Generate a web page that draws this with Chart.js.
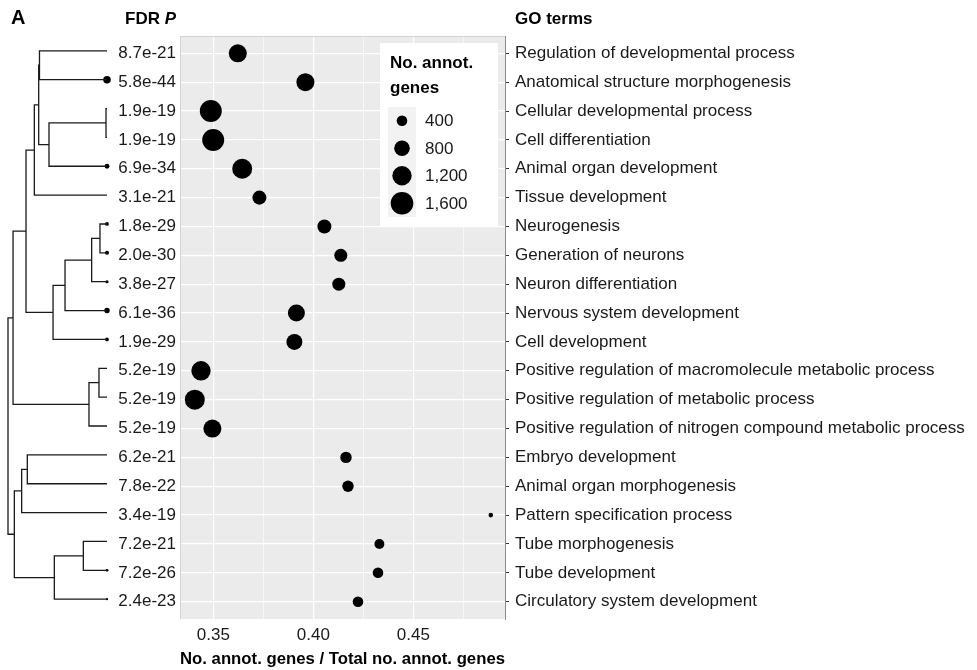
<!DOCTYPE html>
<html><head><meta charset="utf-8">
<script src="https://cdn.jsdelivr.net/npm/chart.js@4"></script>
<style>
html,body{margin:0;padding:0;background:#fff;}
#wrap{position:relative;width:977px;height:670px;overflow:hidden;}
#main,#dendro{position:absolute;left:0;top:0;}
</style></head><body>
<div id="wrap"><canvas id="main" width="977" height="670"></canvas><canvas id="dendro" width="112" height="670"></canvas></div>
<script>
// ---------- data ----------
const goTerms = [
  'Regulation of developmental process',
  'Anatomical structure morphogenesis',
  'Cellular developmental process',
  'Cell differentiation',
  'Animal organ development',
  'Tissue development',
  'Neurogenesis',
  'Generation of neurons',
  'Neuron differentiation',
  'Nervous system development',
  'Cell development',
  'Positive regulation of macromolecule metabolic process',
  'Positive regulation of metabolic process',
  'Positive regulation of nitrogen compound metabolic process',
  'Embryo development',
  'Animal organ morphogenesis',
  'Pattern specification process',
  'Tube morphogenesis',
  'Tube development',
  'Circulatory system development'
];
const fdrP = [8.7e-21, 5.8e-44, 1.9e-19, 1.9e-19, 6.9e-34, 3.1e-21, 1.8e-29, 2.0e-30, 3.8e-27, 6.1e-36,
              1.9e-29, 5.2e-19, 5.2e-19, 5.2e-19, 6.2e-21, 7.8e-22, 3.4e-19, 7.2e-21, 7.2e-26, 2.4e-23];
const geneRatio = [0.3622, 0.3960, 0.3487, 0.3499, 0.3644, 0.3730, 0.4055, 0.4137, 0.4127, 0.3915,
                   0.3905, 0.3438, 0.3407, 0.3495, 0.4163, 0.4173, 0.4887, 0.4330, 0.4323, 0.4223];
const annotGenes = [1045, 1045, 1520, 1520, 1270, 660, 660, 580, 580, 940,
                    840, 1200, 1270, 1045, 455, 455, 100, 360, 400, 400];
const sizeBreaks = [400, 800, 1200, 1600];
const xTickValues = [0.35, 0.375, 0.40, 0.425, 0.45, 0.475];
const xMajorTicks = [0.35, 0.40, 0.45];
// dendrogram merges (hclust style: negative = leaf number, positive = earlier merge)
const mergeA = [-3, -7, -12, 2, 3, -18, 4, 6, 7, 1, -1, 11, 12, -15, 13, 14, 16, 15, 18];
const mergeB = [-4, -8, -13, -9, -14, -19, -10, -20, -11, -5, -2, 10, -6, -16, 9, -17, 8, 5, 17];
const mergeHeight = [0.01, 0.071, 0.081, 0.155, 0.182, 0.239, 0.424, 0.532, 0.545, 0.586,
                     0.682, 0.69, 0.734, 0.805, 0.818, 0.862, 0.936, 0.949, 1.0];

// ---------- helpers ----------
const FONT = "'Liberation Sans', Arial, Helvetica, sans-serif";
Chart.defaults.font.family = FONT;
Chart.defaults.font.size = 17;
Chart.defaults.color = '#1a1a1a';
const sizeRadius = n => 0.3 * Math.sqrt(n) - 0.7;
const tipRadius = p => { const l = -Math.log10(p); return l > 22 ? (l - 22) * 0.13 + 1.0 : 0; };
const isMajor = v => xMajorTicks.some(m => Math.abs(m - v) < 1e-9);
const rowTicks = s => { s.ticks = goTerms.map((_, i) => ({ value: i })); };

// ---------- main chart ----------
const panelPlugin = {
  id: 'panel',
  beforeDraw(chart) {
    const { ctx, chartArea: a } = chart;
    ctx.save();
    ctx.fillStyle = '#ebebeb';
    ctx.fillRect(a.left, a.top, a.right - a.left, a.bottom - a.top);
    ctx.restore();
  },
  beforeDatasetsDraw(chart) {
    const { ctx, chartArea: a } = chart;
    ctx.save();
    ctx.strokeStyle = '#d4d4d4';
    ctx.lineWidth = 1;
    ctx.beginPath();
    ctx.moveTo(a.left, a.top + 0.5); ctx.lineTo(a.right, a.top + 0.5);
    ctx.stroke();
    ctx.restore();
  },
  afterDatasetsDraw(chart) {
    const { ctx, chartArea: a } = chart;
    ctx.save();
    // legend box
    const bx = a.right - 125, by = a.top + 7, bw = 118, bh = 183;
    ctx.fillStyle = '#ffffff';
    ctx.fillRect(bx, by, bw, bh);
    ctx.fillStyle = '#000';
    ctx.font = 'bold 17px ' + FONT;
    ctx.textBaseline = 'middle';
    ctx.textAlign = 'left';
    ctx.fillText('No. annot.', bx + 10, by + 20);
    ctx.fillText('genes', bx + 10, by + 45);
    const kx = bx + 8, ky = by + 64, kw = 28, kStep = 27.5;
    ctx.fillStyle = '#f2f2f2';
    ctx.fillRect(kx, ky, kw, kStep * sizeBreaks.length);
    ctx.font = '17px ' + FONT;
    sizeBreaks.forEach((b, i) => {
      const cy = ky + kStep * (i + 0.5);
      ctx.fillStyle = '#000';
      ctx.beginPath();
      ctx.arc(kx + kw / 2, cy, sizeRadius(b), 0, Math.PI * 2);
      ctx.fill();
      ctx.fillStyle = '#1a1a1a';
      ctx.fillText(b.toLocaleString('en-US'), kx + kw + 9, cy + 1);
    });
    ctx.restore();
  },
  afterDraw(chart) {
    const { ctx, chartArea: a } = chart;
    ctx.save();
    ctx.fillStyle = '#000';
    ctx.textBaseline = 'middle';
    ctx.textAlign = 'left';
    ctx.font = 'bold 20px ' + FONT;
    ctx.fillText('A', 11, 18);
    ctx.font = 'bold 17px ' + FONT;
    const w1 = ctx.measureText('FDR ').width;
    ctx.font = 'italic bold 17px ' + FONT;
    const w2 = ctx.measureText('P').width;
    const fx = a.left - 4 - w1 - w2;
    ctx.font = 'bold 17px ' + FONT;
    ctx.fillText('FDR ', fx, 19);
    ctx.font = 'italic bold 17px ' + FONT;
    ctx.fillText('P', fx + w1, 19);
    ctx.font = 'bold 17px ' + FONT;
    ctx.fillText('GO terms', a.right + 10, 19);
    ctx.restore();
  }
};

new Chart(document.getElementById('main'), {
  type: 'scatter',
  data: {
    datasets: [{
      data: geneRatio.map((x, i) => ({ x, y: i })),
      backgroundColor: '#000',
      borderWidth: 0,
      pointRadius: c => sizeRadius(annotGenes[c.dataIndex]),
      pointHoverRadius: c => sizeRadius(annotGenes[c.dataIndex]),
      yAxisID: 'y'
    }]
  },
  options: {
    responsive: false,
    animation: false,
    events: [],
    layout: { padding: { top: 36, left: 0, right: 0, bottom: 0 } },
    plugins: { legend: { display: false }, tooltip: { enabled: false } },
    scales: {
      x: {
        type: 'linear', position: 'bottom', min: 0.3333, max: 0.4958,
        afterBuildTicks: s => { s.ticks = xTickValues.map(v => ({ value: v })); },
        afterFit: s => { s.height = 51; },
        ticks: { autoSkip: false, maxRotation: 0, padding: 6, color: '#1a1a1a',
                 callback: v => isMajor(v) ? v.toFixed(2) : '' },
        grid: { color: '#ffffff', lineWidth: c => isMajor(c.tick.value) ? 1.2 : 0.6, drawTicks: false },
        border: { display: false },
        title: { display: true, text: 'No. annot. genes / Total no. annot. genes', color: '#000',
                 font: { size: 17, weight: 'bold' }, padding: { top: 0, bottom: 0 } }
      },
      y: {
        type: 'linear', position: 'left', reverse: true, min: -0.6, max: 19.6,
        afterBuildTicks: rowTicks,
        afterFit: s => { s.width = 180; },
        ticks: { autoSkip: false, padding: 4, color: '#1a1a1a', callback: v => fdrP[v].toExponential(1) },
        grid: { color: '#ffffff', lineWidth: 1.2, drawTicks: false },
        border: { display: true, color: '#d4d4d4', width: 1 }
      },
      y2: {
        type: 'linear', position: 'right', reverse: true, min: -0.6, max: 19.6,
        afterBuildTicks: rowTicks,
        afterFit: s => { s.width = 472; },
        ticks: { autoSkip: false, padding: 6, color: '#1a1a1a', callback: v => goTerms[v] },
        grid: { drawOnChartArea: false, drawTicks: true, tickLength: 4, tickColor: '#333', color: '#333', lineWidth: 1 },
        border: { display: true, color: '#8c8c8c', width: 1 }
      }
    }
  },
  plugins: [panelPlugin]
});

// ---------- dendrogram ----------
const nodeY = [], nodeH = [];
const posY = r => r < 0 ? (-r - 1) : nodeY[r - 1];
const posH = r => r < 0 ? 0 : nodeH[r - 1];
mergeA.forEach((a, k) => {
  nodeY.push((posY(a) + posY(mergeB[k])) / 2);
  nodeH.push(mergeHeight[k]);
});
const dendroSets = mergeA.map((a, k) => {
  const b = mergeB[k], h = mergeHeight[k];
  return {
    type: 'line',
    data: [{ x: posH(a), y: posY(a) }, { x: h, y: posY(a) }, { x: h, y: posY(b) }, { x: posH(b), y: posY(b) }],
    borderColor: '#1a1a1a', borderWidth: 1.3, pointRadius: 0, tension: 0, fill: false, clip: false
  };
});
dendroSets.push({
  type: 'scatter',
  data: fdrP.map((p, i) => ({ x: 0, y: i })),
  backgroundColor: '#000', borderWidth: 0,
  pointRadius: c => tipRadius(fdrP[c.dataIndex]),
  clip: false
});

new Chart(document.getElementById('dendro'), {
  type: 'line',
  data: { datasets: dendroSets },
  options: {
    responsive: false,
    animation: false,
    events: [],
    layout: { padding: { top: 33.5, bottom: 53.5, left: 8, right: 5 } },
    plugins: { legend: { display: false }, tooltip: { enabled: false } },
    scales: {
      x: { type: 'linear', min: 0, max: 1, reverse: true, display: false },
      y: { type: 'linear', min: -0.6, max: 19.6, reverse: true, display: false }
    }
  }
});
</script>
</body></html>
